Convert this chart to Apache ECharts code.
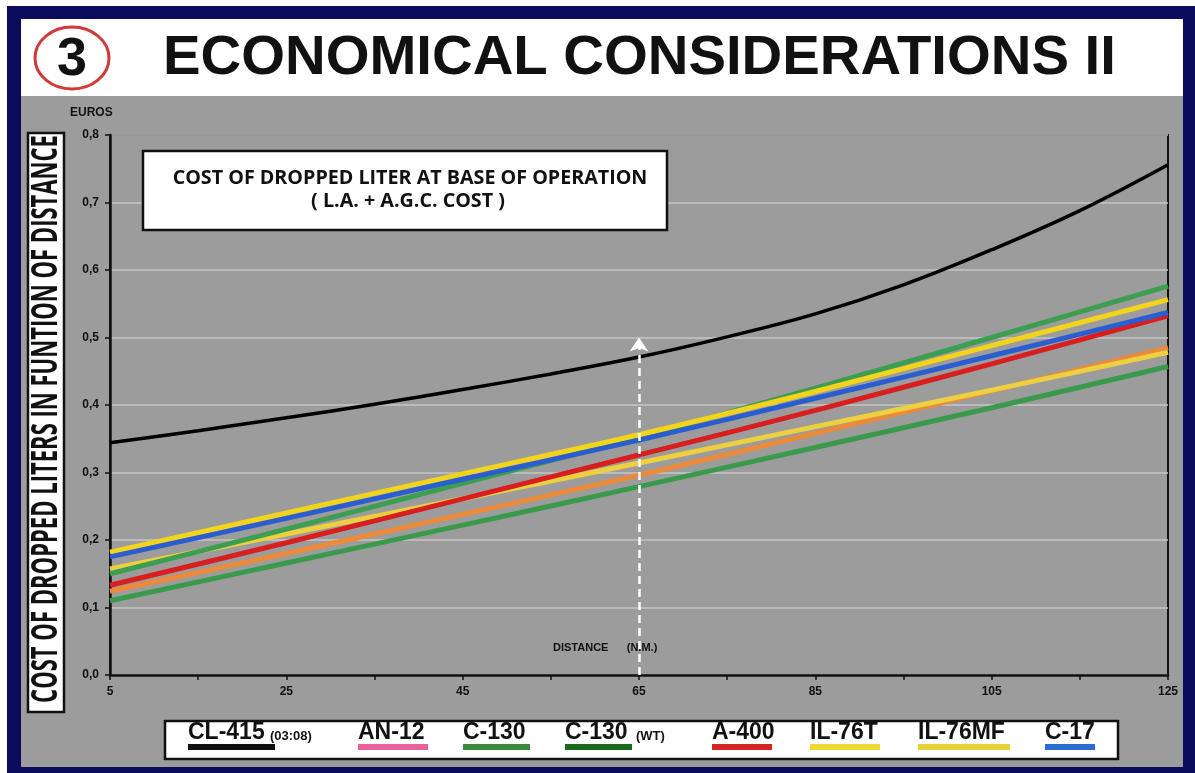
<!DOCTYPE html>
<html><head><meta charset="utf-8">
<script src="https://cdn.jsdelivr.net/npm/echarts@6/dist/echarts.min.js"></script>
<style>html,body{margin:0;padding:0;background:#fff}#c{width:1195px;height:773px}</style>
</head><body><div id="c"></div>
<script>
// ---------- data ----------
const seriesNames = ['CL-415','AN-12','C-130','C-130 (WT)','A-400','IL-76T','IL-76MF','C-17'];
const legendLabels = ['CL-415','AN-12','C-130','C-130','A-400','IL-76T','IL-76MF','C-17'];
const legendSuffix = ['(03:08)','','','(WT)','','','',''];
const xTickLabels = ['5','25','45','65','85','105','125'];
const yTickLabels = ['0,0','0,1','0,2','0,3','0,4','0,5','0,6','0,7','0,8'];

const clDistance = [5,15,25,35,45,55,65,75,85,95,105,115,125];
const cl415 = [0.344,0.362,0.381,0.401,0.423,0.446,0.471,0.501,0.535,0.578,0.630,0.688,0.756];

const distance = [5,25,45,65,85,105,125];
const an12   = [0.124,0.180,0.238,0.296,0.358,0.421,0.485];
const c130   = [0.110,0.166,0.222,0.279,0.337,0.396,0.457];
const c130wt = [0.150,0.216,0.284,0.352,0.425,0.500,0.576];
const a400   = [0.133,0.196,0.261,0.326,0.392,0.461,0.532];
const il76t  = [0.182,0.240,0.298,0.356,0.420,0.488,0.556];
const il76mf = [0.157,0.209,0.261,0.314,0.368,0.422,0.478];
const c17    = [0.175,0.232,0.290,0.348,0.410,0.473,0.537];

const arrowDistance = 65;
const arrowBottom = 0;
const arrowTop = 0.5;

// ---------- styles ----------
const lineColors = ['#000000','#ec8a3c','#3a9a4c','#3c9e50','#d81e1e','#f2d41c','#ecd040','#2a5ed0'];
const legendColors = ['#111111','#e8609c','#3c8a3c','#1c6a1c','#d42424','#f0d830','#e8d038','#2a6cd0'];
const legendX = [188,358,463,565,712,810,918,1045];
const legendSwatchW = [87,70,67,67,60,70,92,50];
const legendSuffixX = [270,0,0,636,0,0,0,0];

const SANS = '"Liberation Sans", Arial, sans-serif';
const OPEN = '"Open Sans", "Liberation Sans", sans-serif';

const pairs = (xs, ys) => xs.map((x, i) => [x, ys[i]]);
const dataSets = [
  pairs(clDistance, cl415), pairs(distance, an12), pairs(distance, c130), pairs(distance, c130wt),
  pairs(distance, a400), pairs(distance, il76t), pairs(distance, il76mf), pairs(distance, c17)
];
// drawing order (back to front)
const drawOrder = [2,1,6,4,3,5,7,0];

const series = drawOrder.map(i => ({
  name: seriesNames[i], type: 'line', data: dataSets[i], symbol: 'none',
  smooth: i === 0 ? 0.4 : 0.3,
  lineStyle: { color: lineColors[i], width: i === 0 ? 3.5 : 5 },
  z: 3
}));
// white dashed arrow (annotation) on its own empty series
series.push({
  name: 'arrow', type: 'line', data: [], z: 6, symbol: 'none',
  markLine: {
    silent: true, symbol: ['none', 'arrow'], symbolSize: 14, animation: false, z: 6,
    label: { show: false },
    lineStyle: { color: '#ffffff', type: [8, 5], width: 2.5, opacity: 1 },
    itemStyle: { color: '#ffffff' },
    data: [[{ coord: [arrowDistance, arrowBottom] }, { coord: [arrowDistance, arrowTop] }]]
  }
});

function txt(x, y, text, font, opts) {
  opts = opts || {};
  const el = {
    type: 'text', x: x, y: y, z: 30,
    style: { text: text, font: font, fill: '#111',
      align: opts.align || 'left', textAlign: opts.align || 'left',
      verticalAlign: 'middle', textVerticalAlign: 'middle' }
  };
  if (opts.rotation != null) el.rotation = opts.rotation;
  if (opts.scaleX != null) el.scaleX = opts.scaleX;
  if (opts.scaleY != null) el.scaleY = opts.scaleY;
  return el;
}

const graphics = [
  { type: 'rect', z: -100, shape: { x: 7, y: 6, width: 1188, height: 767 }, style: { fill: '#0b0b5e' } },
  { type: 'rect', z: -99, shape: { x: 21, y: 96, width: 1162, height: 671 }, style: { fill: '#9c9c9c' } },
  { type: 'rect', z: -99, shape: { x: 21, y: 19, width: 1162, height: 77 }, style: { fill: '#ffffff' } },
  { type: 'ellipse', z: 10, shape: { cx: 72, cy: 58, rx: 37, ry: 31 }, style: { fill: '#fff', stroke: '#d23a3a', lineWidth: 3 } },
  txt(72, 60, '3', 'bold 54px ' + SANS, { align: 'center' }),
  txt(163, 58, 'ECONOMICAL CONSIDERATIONS II', 'bold 56.3px ' + SANS),
  { type: 'rect', z: 10, shape: { x: 28, y: 133, width: 36, height: 579 }, style: { fill: '#fff', stroke: '#111', lineWidth: 2.5 } },
  txt(47, 419, 'COST OF DROPPED LITERS IN FUNTION OF DISTANCE', 'bold 35px ' + OPEN,
      { rotation: Math.PI / 2, scaleX: 0.63, align: 'center' }),
  txt(70, 113, 'EUROS', 'bold 12px ' + SANS),
  { type: 'rect', z: 10, shape: { x: 143, y: 151, width: 524, height: 79 }, style: { fill: '#fff', stroke: '#111', lineWidth: 2.5 } },
  txt(410, 178, 'COST OF DROPPED LITER AT BASE OF OPERATION', 'bold 19.7px ' + OPEN, { align: 'center' }),
  txt(408, 201, '( L.A. + A.G.C. COST )', 'bold 19.7px ' + OPEN, { align: 'center' }),
  txt(553, 648, 'DISTANCE      (N.M.)', 'bold 11px ' + SANS),
  { type: 'rect', z: 10, shape: { x: 165, y: 721, width: 953, height: 38 }, style: { fill: '#fff', stroke: '#111', lineWidth: 2.5 } }
];
legendLabels.forEach((lab, i) => {
  graphics.push(txt(legendX[i], 733, lab, 'bold 23px ' + SANS));
  if (legendSuffix[i]) graphics.push(txt(legendSuffixX[i], 736, legendSuffix[i], 'bold 13px ' + SANS));
  graphics.push({ type: 'rect', z: 30, shape: { x: legendX[i], y: 744, width: legendSwatchW[i], height: 6 }, style: { fill: legendColors[i] } });
});

const chart = echarts.init(document.getElementById('c'), null, { renderer: 'canvas' });
chart.setOption({
  animation: false,
  backgroundColor: '#ffffff',
  grid: { left: 110, right: 27, top: 135, bottom: 98, show: true, borderColor: '#111', borderWidth: 2, backgroundColor: 'transparent' },
  xAxis: {
    type: 'value', min: 5, max: 125, interval: 10,
    axisLine: { lineStyle: { color: '#111', width: 2.5 } },
    axisTick: { show: true, length: 5, lineStyle: { color: '#111', width: 1.5 } },
    axisLabel: {
      margin: 11, color: '#111', fontWeight: 'bold', fontSize: 12, fontFamily: SANS,
      formatter: v => { const k = xTickLabels.indexOf(String(Math.round(v))); return k >= 0 ? xTickLabels[k] : ''; }
    },
    splitLine: { show: false }
  },
  yAxis: {
    type: 'value', min: 0, max: 0.8, interval: 0.1,
    axisLine: { show: true, lineStyle: { color: '#111', width: 2.5 } },
    axisTick: { show: true, length: 5, lineStyle: { color: '#111', width: 1.5 } },
    axisLabel: {
      margin: 11, color: '#111', fontWeight: 'bold', fontSize: 12, fontFamily: SANS,
      formatter: v => yTickLabels[Math.round(v * 10)]
    },
    splitLine: { show: true, lineStyle: { color: '#c6c6c6', width: 1.5 } }
  },
  graphic: { elements: graphics },
  series
});
</script></body></html>
